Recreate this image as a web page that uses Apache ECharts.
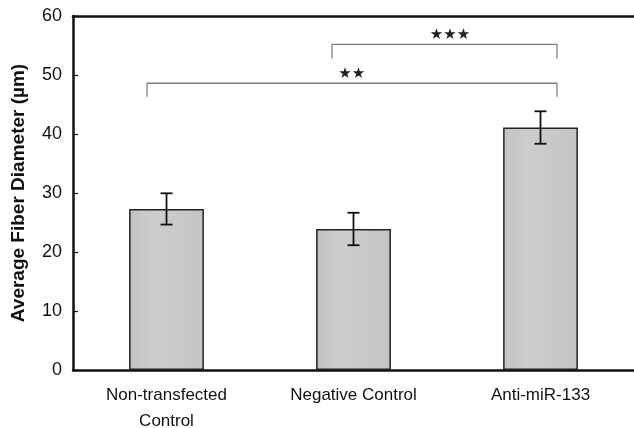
<!DOCTYPE html>
<html>
<head>
<meta charset="utf-8">
<script src="https://cdn.jsdelivr.net/npm/echarts@6/dist/echarts.min.js"></script>
<style>html,body{margin:0;padding:0;background:#fff}#c{width:634px;height:428px}</style>
</head>
<body>
<div id="c"></div>
<script>
var categories = ['Non-transfected\nControl', 'Negative Control', 'Anti-miR-133'];
var means = [27.3, 23.9, 41.1];
var errors = [2.65, 2.75, 2.75];
var yTicks = [0, 10, 20, 30, 40, 50, 60];

// significance brackets (x in category units 0..3, y in data units)
var bracketLabels = ['★★', '★★★'];
var bracketX1 = [0.396, 1.385];
var bracketX2 = [2.588, 2.588];
var bracketY = [48.6, 55.2];
var bracketLegEnd = [46.3, 52.8];
var labelX = [1.49, 2.016];
var labelY = [50.1, 56.8];

var chart = echarts.init(document.getElementById('c'), null, {renderer: 'canvas'});

var errData = means.map(function (m, i) { return [i, m, errors[i]]; });
var bracketData = bracketLabels.map(function (l, i) {
  return [bracketX1[i], bracketX2[i], bracketY[i], bracketLegEnd[i], labelX[i], labelY[i], l];
});

chart.setOption({
  animation: false,
  backgroundColor: '#fff',
  grid: {left: 73, right: 0, top: 16, bottom: 58, outerBoundsMode: 'none', containLabel: false},
  xAxis: [{
    type: 'category',
    data: categories,
    axisLine: {lineStyle: {color: '#111', width: 2.5}},
    axisTick: {inside: true, length: 5, lineStyle: {color: '#111', width: 1.2}},
    axisLabel: {color: '#111', fontSize: 17, fontFamily: 'Liberation Sans', lineHeight: 26, margin: 12},
    splitLine: {show: false}
  }, {
    type: 'value',
    position: 'top',
    min: 0, max: 3,
    axisLine: {show: true, onZero: false, lineStyle: {color: '#111', width: 2.5}},
    axisTick: {show: false},
    axisLabel: {show: false},
    splitLine: {show: false}
  }],
  yAxis: {
    type: 'value',
    min: yTicks[0], max: yTicks[yTicks.length - 1], interval: 10,
    name: 'Average Fiber Diameter (µm)',
    nameLocation: 'middle',
    nameGap: 45,
    nameTextStyle: {color: '#111', fontSize: 19, fontWeight: 'bold', fontFamily: 'Liberation Sans'},
    axisLine: {show: true, lineStyle: {color: '#111', width: 2.5}},
    axisTick: {show: true, inside: true, length: 5, lineStyle: {color: '#111', width: 1.2}},
    axisLabel: {color: '#111', fontSize: 18, fontFamily: 'Liberation Sans', margin: 11},
    splitLine: {show: false}
  },
  series: [{
    type: 'bar',
    data: means,
    barWidth: '40%',
    itemStyle: {
      color: {type: 'linear', x: 0, y: 0, x2: 1, y2: 0, colorStops: [
        {offset: 0, color: '#c2c2c2'}, {offset: 0.35, color: '#cdcdcd'}, {offset: 1, color: '#c4c4c4'}]},
      borderColor: '#222', borderWidth: 1.5
    }
  }, {
    type: 'custom',
    data: errData,
    z: 5,
    renderItem: function (params, api) {
      var x = api.coord([api.value(0), 0])[0];
      var hi = api.coord([api.value(0), api.value(1) + api.value(2)])[1];
      var lo = api.coord([api.value(0), api.value(1) - api.value(2)])[1];
      var w = 6;
      var st = {stroke: '#111', lineWidth: 1.8};
      return {type: 'group', children: [
        {type: 'line', shape: {x1: x, y1: hi, x2: x, y2: lo}, style: st},
        {type: 'line', shape: {x1: x - w, y1: hi, x2: x + w, y2: hi}, style: st},
        {type: 'line', shape: {x1: x - w, y1: lo, x2: x + w, y2: lo}, style: st}
      ]};
    }
  }, {
    type: 'custom',
    xAxisIndex: 1,
    data: bracketData,
    z: 5,
    renderItem: function (params, api) {
      var p1 = api.coord([api.value(0), api.value(2)]);
      var p2 = api.coord([api.value(1), api.value(2)]);
      var yEnd = api.coord([api.value(0), api.value(3)])[1];
      var lp = api.coord([api.value(4), api.value(5)]);
      var st = {stroke: '#808080', lineWidth: 1.3, fill: null};
      return {type: 'group', children: [
        {type: 'polyline', shape: {points: [[p1[0], yEnd], p1, p2, [p2[0], yEnd]]}, style: st},
        {type: 'text', x: lp[0], y: lp[1], style: {text: bracketLabels[params.dataIndex], fill: '#222',
          font: '15px "DejaVu Sans"', align: 'center', verticalAlign: 'middle'}}
      ]};
    }
  }]
});
</script>
</body>
</html>
